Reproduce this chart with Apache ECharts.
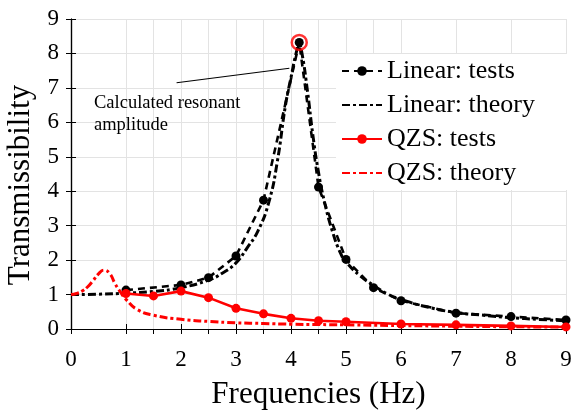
<!DOCTYPE html>
<html>
<head>
<meta charset="utf-8">
<script src="https://cdn.jsdelivr.net/npm/echarts@6/dist/echarts.min.js"></script>
<style>
html,body{margin:0;padding:0;background:#fff;}
#chart{width:574px;height:411px;}
</style>
</head>
<body>
<div id="chart"></div>
<script>
// ---- data ----
var linearTestsX = [1, 2, 2.5, 3, 3.5, 4.15, 4.5, 5, 5.5, 6, 7, 8, 9];
var linearTests = [1.13, 1.28, 1.49, 2.12, 3.74, 8.32, 4.12, 2.02, 1.2, 0.82, 0.46, 0.36, 0.26];
var qzsTestsX = [1, 1.5, 2, 2.5, 3, 3.5, 4, 4.5, 5, 6, 7, 8, 9];
var qzsTests = [1.03, 0.96, 1.1, 0.91, 0.6, 0.44, 0.31, 0.24, 0.21, 0.145, 0.12, 0.09, 0.06];
var linearTheoryX = [0, 0.5, 1, 1.5, 2, 2.5, 2.75, 3, 3.2, 3.4, 3.6, 3.75, 3.9, 4.0, 4.1, 4.15, 4.2, 4.3, 4.4, 4.5, 4.6, 4.75, 4.9, 5, 5.25, 5.5, 5.75, 6, 6.5, 7, 7.5, 8, 8.5, 9];
var linearTheory = [1.0, 1.01, 1.04, 1.09, 1.2, 1.42, 1.62, 1.92, 2.35, 2.85, 3.7, 4.85, 6.5, 7.3, 8.05, 8.25, 8.0, 6.9, 5.6, 4.55, 3.75, 2.85, 2.2, 1.95, 1.55, 1.27, 1.02, 0.86, 0.63, 0.48, 0.4, 0.33, 0.28, 0.24];
var qzsTheoryX = [0, 0.1, 0.2, 0.3, 0.4, 0.5, 0.6, 0.7, 0.8, 0.9, 1.0, 1.2, 1.5, 2, 2.5, 3, 3.5, 4, 5, 6, 7, 8, 9];
var qzsTheory = [1.0, 1.03, 1.1, 1.22, 1.4, 1.6, 1.71, 1.62, 1.32, 1.07, 0.86, 0.57, 0.4, 0.28, 0.22, 0.18, 0.16, 0.14, 0.12, 0.1, 0.08, 0.065, 0.055];
var xTickValues = [0, 1, 1.5, 2, 2.5, 3, 3.5, 4, 4.5, 5, 5.5, 6, 7, 8, 9];
var xLabelValues = [0, 1, 2, 3, 4, 5, 6, 7, 8, 9];
var yTicks = ['0','1','2','3','4','5','6','7','8','9'];
var seriesNames = ['Linear: tests', 'Linear: theory', 'QZS: tests', 'QZS: theory'];
var annotationText = 'Calculated resonant\namplitude';

function pairs(xs, ys) { return xs.map(function (x, i) { return [x, ys[i]]; }); }
var peakIdx = linearTests.indexOf(Math.max.apply(null, linearTests));
var halfTicks = xTickValues.filter(function (v) { return v % 1 !== 0; });
var Y_MIN = 0, Y_MAX = 9;

var FONT = 'Liberation Serif';
var chart = echarts.init(document.getElementById('chart'), null, {renderer: 'canvas'});
var dashDot = [8, 3, 3, 3];
var tickStyle = {show: true, inside: true, length: 5, lineStyle: {color: '#000', width: 1}};
var axisLine = {show: true, lineStyle: {color: '#000', width: 1.2}};
var gridStyle = {color: '#e3e3e3', width: 1};

var halfGridSeries = halfTicks.map(function (v) {
  return {
    type: 'line', data: [[v, Y_MIN], [v, Y_MAX]], symbol: 'none', silent: true, z: 1,
    lineStyle: {color: '#e3e3e3', width: 1, type: 'solid'}, color: '#e3e3e3', legendHoverLink: false
  };
});

chart.setOption({
  animation: false,
  backgroundColor: '#fff',
  grid: {left: 71, right: 8, top: 19, bottom: 82, containLabel: false, outerBoundsMode: 'none'},
  xAxis: [
    {
      type: 'value', min: 0, max: 9, interval: 1, position: 'bottom',
      axisLine: axisLine,
      axisTick: Object.assign({customValues: xTickValues}, tickStyle),
      name: 'Frequencies (Hz)', nameLocation: 'middle', nameGap: 50,
      nameTextStyle: {fontFamily: FONT, fontSize: 31, color: '#000'},
      axisLabel: {customValues: xLabelValues, fontFamily: FONT, fontSize: 23, color: '#000', margin: 19},
      splitLine: {show: true, lineStyle: gridStyle}
    },
    {
      type: 'value', min: 0, max: 9, interval: 1, position: 'top',
      axisLine: axisLine,
      axisTick: Object.assign({customValues: xTickValues}, tickStyle),
      axisLabel: {show: false}, splitLine: {show: false}
    }
  ],
  yAxis: [
    {
      type: 'value', min: Y_MIN, max: Y_MAX, interval: 1, position: 'left',
      axisLine: axisLine, axisTick: tickStyle,
      name: 'Transmissibility', nameLocation: 'middle', nameGap: 32,
      nameTextStyle: {fontFamily: FONT, fontSize: 31, color: '#000', padding: [0, 22, 0, 0]},
      axisLabel: {fontFamily: FONT, fontSize: 23, color: '#000', margin: 12,
        formatter: function (v) { return yTicks[Math.round(v)]; }},
      splitLine: {show: true, lineStyle: gridStyle}
    },
    {
      type: 'value', min: Y_MIN, max: Y_MAX, interval: 1, position: 'right',
      axisLine: axisLine, axisTick: tickStyle,
      axisLabel: {show: false}, splitLine: {show: false}
    }
  ],
  legend: {
    data: [
      {name: seriesNames[0]},
      {name: seriesNames[1], itemStyle: {opacity: 0}},
      {name: seriesNames[2]},
      {name: seriesNames[3], itemStyle: {opacity: 0}}
    ],
    orient: 'vertical', left: 336, top: 54, z: 10,
    itemWidth: 40, itemHeight: 12, itemGap: 8,
    backgroundColor: '#fff',
    padding: [4, 40, 4, 5],
    textStyle: {fontFamily: FONT, fontSize: 26, color: '#000', lineHeight: 24}
  },
  graphic: [{
    type: 'text', left: 94, top: 92, z: 100,
    style: {text: annotationText, font: '18.5px "Liberation Serif"', fill: '#000', lineHeight: 22}
  }],
  series: halfGridSeries.concat([
    {
      name: seriesNames[1], type: 'line', data: pairs(linearTheoryX, linearTheory),
      symbol: 'none', smooth: true, color: '#000',
      lineStyle: {color: '#000', width: 3, type: dashDot}, z: 3,
      markLine: {
        silent: true, symbol: ['none', 'arrow'], symbolSize: [0, 16],
        label: {show: false},
        lineStyle: {color: '#000', width: 1.1, type: 'solid'},
        data: [[{coord: [1.92, 7.15]}, {coord: [3.97, 7.57]}]]
      }
    },
    {
      name: seriesNames[0], type: 'line', data: pairs(linearTestsX, linearTests),
      symbol: 'circle', symbolSize: 9, showAllSymbol: true, color: '#000',
      itemStyle: {color: '#000'},
      lineStyle: {color: '#000', width: 2.6, type: [7, 5]}, z: 4
    },
    {
      name: seriesNames[3], type: 'line', data: pairs(qzsTheoryX, qzsTheory),
      symbol: 'none', smooth: true, color: '#ff0000',
      lineStyle: {color: '#ff0000', width: 3, type: dashDot}, z: 5
    },
    {
      name: seriesNames[2], type: 'line', data: pairs(qzsTestsX, qzsTests),
      symbol: 'circle', symbolSize: 9, showAllSymbol: true, color: '#ff0000',
      itemStyle: {color: '#ff0000'},
      lineStyle: {color: '#ff0000', width: 2.6, type: 'solid'}, z: 6
    },
    {
      name: 'peak', type: 'scatter', data: [[linearTestsX[peakIdx], linearTests[peakIdx]]],
      symbol: 'circle', symbolSize: 15,
      itemStyle: {color: 'rgba(0,0,0,0)', borderColor: '#ff0000', borderWidth: 2.5}, z: 7
    }
  ])
});
</script>
</body>
</html>
